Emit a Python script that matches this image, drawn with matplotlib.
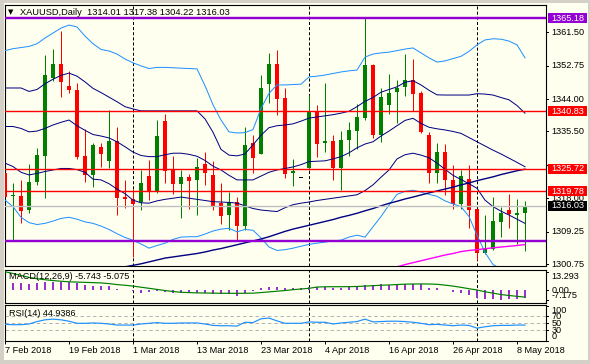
import matplotlib
matplotlib.use('Agg')
import matplotlib.pyplot as plt
from matplotlib.patches import Rectangle
import numpy as np

plt.rcParams['lines.scale_dashes'] = False
FONT = ['Liberation Sans', 'DejaVu Sans']
plt.rcParams['font.family'] = FONT

# ---------------- data ----------------
opens = [1324.5, 1318.5, 1318.5, 1314.9, 1322.3, 1329.1, 1349.4, 1353.3, 1347.4, 1346.3,
         1329.0, 1324.2, 1331.5, 1327.8, 1333.0, 1318.2, 1317.8, 1317.1, 1323.8, 1319.9,
         1338.2, 1325.4, 1321.6, 1323.6, 1322.7, 1326.9, 1324.0, 1316.8, 1313.6, 1316.9,
         1310.8, 1332.5, 1329.6, 1347.9, 1353.3, 1344.4, 1324.5, 1323.35, 1325.8, 1340.7,
         1332.5, 1333.0, 1326.0, 1333.2, 1335.7, 1339.1, 1352.9, 1334.7, 1342.4, 1345.9,
         1347.2, 1349.0, 1345.5, 1334.5, 1324.5, 1330.0, 1322.9, 1316.6, 1323.0, 1315.1,
         1303.7, 1304.6, 1311.8, 1315.0, 1313.7, 1314.01]
highs = [1332.4, 1322.1, 1322.7, 1326.9, 1331.2, 1355.5, 1357.1, 1361.8, 1351.3, 1348.3,
         1336.1, 1332.5, 1332.4, 1341.1, 1336.7, 1322.7, 1320.5, 1325.5, 1328.0, 1338.5,
         1340.2, 1329.1, 1325.4, 1324.3, 1328.6, 1330.0, 1327.8, 1321.9, 1319.7, 1318.4,
         1336.7, 1334.7, 1350.3, 1356.1, 1356.8, 1347.0, 1328.2, 1323.35, 1345.0, 1342.4,
         1348.3, 1334.7, 1335.6, 1338.0, 1342.6, 1365.2, 1353.3, 1347.0, 1350.5, 1349.1,
         1355.8, 1354.6, 1346.1, 1335.4, 1332.6, 1332.1, 1326.7, 1325.5, 1326.7, 1315.3,
         1313.6, 1318.2, 1315.8, 1319.1, 1317.9, 1317.38]
lows = [1311.4, 1307.0, 1311.4, 1314.2, 1321.4, 1318.1, 1348.7, 1344.6, 1345.6, 1328.4,
        1322.3, 1321.0, 1326.2, 1325.8, 1313.6, 1315.5, 1302.5, 1315.0, 1317.5, 1319.4,
        1322.0, 1319.2, 1312.9, 1315.1, 1313.7, 1321.4, 1314.9, 1311.2, 1309.6, 1307.0,
        1309.6, 1324.5, 1329.5, 1343.0, 1339.8, 1323.2, 1321.2, 1323.35, 1325.5, 1328.9,
        1330.2, 1322.7, 1320.1, 1329.1, 1331.0, 1338.5, 1333.7, 1332.8, 1340.0, 1337.6,
        1344.8, 1340.9, 1335.0, 1322.0, 1322.0, 1318.8, 1315.1, 1315.3, 1310.3, 1301.9,
        1303.5, 1304.4, 1307.9, 1310.1, 1306.1, 1304.22]
closes = [1318.4, 1318.9, 1314.7, 1322.3, 1329.3, 1350.3, 1353.3, 1348.5, 1346.3, 1328.9,
          1324.0, 1331.9, 1329.5, 1333.0, 1318.1, 1317.8, 1316.6, 1321.9, 1319.9, 1334.3,
          1325.2, 1321.6, 1323.6, 1322.6, 1326.2, 1324.5, 1315.7, 1313.4, 1317.1, 1310.8,
          1331.9, 1328.6, 1347.0, 1353.1, 1344.1, 1324.3, 1325.1, 1323.35, 1340.8, 1332.2,
          1333.0, 1325.8, 1333.2, 1335.9, 1339.3, 1352.9, 1334.7, 1344.6, 1345.5, 1347.0,
          1349.0, 1345.2, 1335.4, 1324.5, 1330.0, 1322.9, 1316.6, 1323.9, 1315.0, 1303.7,
          1305.0, 1312.1, 1314.0, 1313.8, 1314.2, 1316.03]

bb2_upper = [1356.7, 1357.2, 1357.5, 1357.8, 1358.5, 1360.0, 1361.3, 1362.6, 1363.4, 1362.9,
             1360.5, 1358.5, 1357.0, 1356.6, 1355.8, 1354.5, 1353.5, 1352.7, 1352.0, 1352.3,
             1352.3, 1352.2, 1352.1, 1352.0, 1351.9, 1347.5, 1342.5, 1338.5, 1335.4, 1335.1,
             1335.2, 1336.0, 1341.5, 1345.5, 1347.7, 1347.7, 1347.8, 1347.9, 1349.8, 1350.0,
             1350.3, 1350.7, 1351.1, 1351.4, 1351.6, 1355.0, 1355.8, 1356.1, 1356.3, 1356.7,
             1357.1, 1357.4, 1356.1, 1354.8, 1353.7, 1354.0, 1354.6, 1355.2, 1356.5, 1358.2,
             1359.5, 1359.8, 1359.7, 1359.2, 1358.2, 1354.8]
bb1_upper = [1346.9, 1346.9, 1346.9, 1346.0, 1346.5, 1348.0, 1349.2, 1350.2, 1350.8, 1350.0,
             1348.5, 1346.8, 1345.7, 1344.5, 1343.3, 1342.0, 1341.4, 1340.9, 1340.9, 1340.9,
             1340.9, 1340.9, 1340.9, 1340.9, 1340.9, 1338.8, 1335.3, 1330.8, 1329.3, 1329.1,
             1329.6, 1332.0, 1334.5, 1336.5, 1337.0, 1337.2, 1337.5, 1338.2, 1339.0, 1339.3,
             1339.6, 1339.9, 1340.3, 1340.8, 1342.0, 1343.4, 1344.4, 1345.8, 1346.5, 1347.2,
             1348.4, 1348.8, 1347.7, 1346.3, 1345.1, 1345.05, 1345.05, 1345.05, 1345.05, 1345.4,
             1345.3, 1345.05, 1344.4, 1343.8, 1342.3, 1340.3]
bb_middle = [1336.8, 1336.8, 1336.3, 1335.4, 1335.6, 1336.3, 1337.2, 1337.9, 1338.5, 1337.0,
             1335.8, 1334.7, 1334.3, 1333.8, 1332.8, 1331.5, 1330.1, 1329.2, 1328.9, 1328.9,
             1329.4, 1329.8, 1329.8, 1329.5, 1329.0, 1327.9, 1326.4, 1325.4, 1324.0, 1322.8,
             1322.8, 1322.8, 1323.8, 1324.8, 1325.4, 1325.8, 1326.2, 1326.8, 1327.6, 1327.7,
             1327.8, 1328.3, 1328.9, 1329.9, 1331.2, 1332.2, 1332.8, 1334.3, 1335.6, 1337.0,
             1338.4, 1338.95, 1337.6, 1336.6, 1336.2, 1335.9, 1335.5, 1335.0, 1333.9, 1332.8,
             1331.7, 1330.6, 1329.6, 1328.5, 1327.4, 1326.25]
bb1_lower = [1327.2, 1326.3, 1324.8, 1324.1, 1324.5, 1325.0, 1325.4, 1325.8, 1325.8, 1325.5,
             1324.8, 1323.0, 1322.8, 1321.8, 1320.4, 1319.2, 1317.5, 1316.8, 1316.7, 1317.3,
             1317.7, 1318.0, 1318.3, 1318.0, 1317.7, 1317.4, 1317.1, 1317.0, 1316.9, 1316.7,
             1316.0, 1315.3, 1314.9, 1314.7, 1314.5, 1315.5, 1316.3, 1316.7, 1317.0, 1317.4,
             1317.7, 1318.0, 1318.3, 1318.6, 1318.9, 1320.0, 1321.5, 1323.5, 1325.4, 1328.3,
             1329.4, 1329.8, 1329.3, 1328.6, 1327.2, 1325.6, 1324.0, 1322.9, 1321.8, 1320.6,
             1317.5, 1315.8, 1314.6, 1313.6, 1312.5, 1311.4]
bb2_lower = [1317.5, 1315.8, 1313.0, 1311.6, 1311.1, 1311.4, 1312.0, 1312.7, 1313.0, 1312.5,
             1311.8, 1311.4, 1310.7, 1309.8, 1308.7, 1307.7, 1307.0, 1306.0, 1304.9, 1305.6,
             1306.2, 1307.2, 1307.8, 1307.9, 1307.9, 1308.6, 1309.4, 1309.9, 1310.1, 1309.2,
             1309.8, 1309.6, 1307.6, 1305.2, 1304.3, 1304.5, 1304.9, 1305.4, 1305.9, 1306.2,
             1306.5, 1306.8, 1307.0, 1307.8, 1308.3, 1307.8, 1310.5, 1313.2, 1316.2, 1319.0,
             1319.8, 1320.1, 1319.6, 1319.0, 1318.5, 1317.3, 1316.5, 1315.8, 1313.2, 1308.3,
             1303.8, 1300.6, 1299.5, 1298.5, 1297.8, 1297.0]
# long moving average (navy), starting at bar 15
ma_long_start = 15
ma_long = [1300.0, 1300.4, 1300.8, 1301.3, 1301.8, 1302.3, 1302.6, 1302.9, 1303.2, 1303.5,
           1303.9, 1304.4, 1304.8, 1305.3, 1305.8, 1306.3, 1306.8, 1307.3, 1307.9, 1308.6,
           1309.3, 1309.9, 1310.4, 1310.9, 1311.4, 1311.9, 1312.4, 1313.0, 1313.5, 1314.05,
           1314.7, 1315.3, 1316.0, 1316.65, 1317.2, 1317.8, 1318.3, 1318.85, 1319.4, 1319.9,
           1320.4, 1320.9, 1321.5, 1322.0, 1322.6, 1323.1, 1323.6, 1324.2, 1324.7, 1325.2,
           1325.6]
# magenta moving average, starting at bar 49
ma_mag_start = 49
ma_mag = [1300.0, 1300.6, 1301.1, 1301.6, 1302.1, 1302.6, 1303.1, 1303.5, 1304.0, 1304.3,
          1304.5, 1304.75, 1305.0, 1305.2, 1305.4, 1305.6, 1305.85]

macd_main = [6.1, 5.4, 4.9, 4.4, 4.9, 5.9, 6.1, 6.1, 5.9, 4.9,
             3.9, 3.2, 3.0, 3.0, 0.6, 0.2, -0.3, -1.9, -1.4, -1.0,
             -1.4, -1.9, -1.9, -2.0, -2.1, -2.2, -2.5, -2.8, -3.0, -4.0,
             -1.8, -1.0, 1.5, 2.5, 2.6, 1.8, 1.3, 1.3, 2.0, 2.0,
             2.5, 1.3, 1.3, 2.5, 2.5, 3.4, 3.4, 4.4, 3.4, 4.4,
             4.4, 4.4, 4.4, 1.3, 1.3, 0.2, -1.6, -2.3, -3.5, -5.9,
             -6.4, -6.7, -7.175, -6.7, -6.2, -5.743]
macd_signal = [13.293, 12.0, 10.6, 9.2, 8.2, 7.5, 6.9, 6.4, 6.0, 5.8,
               5.6, 5.4, 5.2, 4.7, 4.0, 3.5, 2.9, 2.1, 1.3, 0.5,
               -0.3, -1.0, -1.6, -1.8, -2.0, -2.1, -2.2, -2.3, -2.3, -2.35,
               -2.3, -2.2, -1.8, -1.3, -0.8, -0.3, 0.3, 0.8, 1.3, 2.2,
               2.4, 2.45, 2.45, 2.5, 2.6, 2.9, 3.2, 3.5, 3.7, 4.0,
               4.3, 4.4, 4.45, 4.4, 4.2, 3.6, 2.9, 2.0, 1.0, 0.07,
               -1.2, -2.2, -3.2, -3.9, -4.5, -5.075]
rsi = [47, 46, 46, 48, 55, 60, 62, 60, 56, 50,
       50, 51, 50, 48, 45, 45, 45, 48, 50, 52,
       50, 50, 51, 51, 51, 48, 44, 43, 43, 42,
       53, 52, 63, 65, 57, 50, 50, 50, 54, 53,
       53, 48, 51, 53, 55, 62, 54, 55, 56, 56,
       55, 53, 50, 46, 47, 45, 43, 45, 44, 36,
       40, 43, 44, 44, 45, 44.9386]
rsi_levels = [70, 50, 30]

price_ticks = [1300.75, 1309.25, 1318.00, 1326.75, 1335.50, 1344.00, 1352.75, 1361.50]
hidden_tick_labels = [1326.75]
hlines_red = [1340.83, 1325.72, 1319.78]
hline_top = 1365.18
hline_bottom = 1306.9
bid = 1316.03
separators = [16, 38, 59]
date_idx = [0, 8, 16, 24, 32, 40, 48, 56, 64]
date_labels = ['7 Feb 2018', '19 Feb 2018', '1 Mar 2018', '13 Mar 2018', '23 Mar 2018',
               '4 Apr 2018', '16 Apr 2018', '26 Apr 2018', '8 May 2018']
title = 'XAUUSD,Daily  1314.01 1317.38 1304.22 1316.03'

# ---------------- layout ----------------
W, H = 590, 364
BG = '#FFFFF0'
fig = plt.figure(figsize=(W / 100, H / 100), dpi=100)
fig.patch.set_facecolor('#D4D0C8')
fig.patches.append(Rectangle((3.5 / W, 1 - 360 / H), 584 / W, 357 / H,
                             transform=fig.transFigure, facecolor=BG,
                             edgecolor='none', zorder=-10))

def rect(x0, y0, x1, y1):
    return [x0 / W, 1 - y1 / H, (x1 - x0) / W, (y1 - y0) / H]

XL, XR = 4.5, 545.7
x_lim = ((XL - 5) / 8, (XR - 5) / 8)
MT, MB = 4.5, 265.8
def price_at(y):
    return 1361.5 - (y - 32.3) / 3.814
main_ylim = (price_at(MB), price_at(MT))
CT, CB = 269.5, 302.5
macd_ylim = (-(CB - 290.1) / 1.383, (290.1 - CT) / 1.383)
RT, RB = 304.5, 341.0
rsi_ylim = ((340.7 - RB) / 0.348, (340.7 - RT) / 0.348)

ax = fig.add_axes(rect(XL, MT, XR, MB))
axm = fig.add_axes(rect(XL, CT, XR, CB))
axr = fig.add_axes(rect(XL, RT, XR, RB))
for a, yl in ((ax, main_ylim), (axm, macd_ylim), (axr, rsi_ylim)):
    a.set_facecolor(BG)
    a.set_xlim(*x_lim)
    a.set_ylim(*yl)
    a.set_yticks([])
    for s in a.spines.values():
        s.set_linewidth(0.8)
        s.set_color('black')
ax.set_xticks([])
axm.set_xticks([])

PX = 0.72  # 1 pixel in points
idx = np.arange(len(closes))

# separators
for a in (ax, axm, axr):
    for s in separators:
        a.axvline(s, color='black', lw=PX, dashes=(2.2, 1.5), zorder=1, snap=True)

# candles
o = np.array(opens); c = np.array(closes); hi = np.array(highs); lo = np.array(lows)
cols = np.where(c > o, '#008000', np.where(c < o, '#FF0000', '#000000'))
ax.vlines(idx, lo, hi, colors=cols, lw=PX, zorder=2, snap=True)
body_min = 1 / 3.814
heights = np.where(np.abs(c - o) < body_min, body_min, np.abs(c - o))
bottoms = np.minimum(o, c)
bottoms = np.where(np.abs(c - o) < body_min, (o + c) / 2 - body_min / 2, bottoms)
ax.bar(idx, heights, bottom=bottoms, width=0.62, color=cols, lw=0, zorder=3)

# bands and averages
ax.plot(idx, bb2_upper, color='#1E90FF', lw=PX, zorder=4)
ax.plot(idx, bb2_lower, color='#1E90FF', lw=PX, zorder=4)
ax.plot(idx, bb1_upper, color='#000080', lw=PX, zorder=4)
ax.plot(idx, bb_middle, color='#000080', lw=PX, zorder=4)
ax.plot(idx, bb1_lower, color='#000080', lw=PX, zorder=4)
ax.plot(np.arange(ma_long_start, ma_long_start + len(ma_long)), ma_long,
        color='#000080', lw=PX * 1.4, zorder=4)
ax.plot(np.arange(ma_mag_start, ma_mag_start + len(ma_mag)), ma_mag,
        color='#FF00FF', lw=PX * 1.4, zorder=4)

# horizontal lines
ax.axhline(bid, color='#C0C0C0', lw=1.0, zorder=5)
for v in hlines_red:
    ax.axhline(v, color='#FF0000', lw=1.0, zorder=5)
ax.axhline(hline_top, color='#9400D3', lw=PX * 2.4, zorder=5)
ax.axhline(hline_bottom, color='#9400D3', lw=PX * 2.4, zorder=5)

# title
fig.text(8 / W, 1 - 12.3 / H, '\u25BC', fontsize=5, family='DejaVu Sans',
         ha='left', va='center')
fig.text(20 / W, 1 - 12.3 / H, title, fontsize=6.7, ha='left', va='center')

# MACD
axm.bar(idx, macd_main, width=0.26, color='#9932CC', lw=0, zorder=2)
axm.plot(idx, macd_signal, color='#008000', lw=PX * 1.2, zorder=3)
axm.text(0.008, 1 - 7.2 / (CB - CT),
         'MACD(12,26,9) %.3f %.3f' % (macd_main[-1], macd_signal[-1]),
         transform=axm.transAxes, fontsize=6.6, ha='left', va='center', zorder=6)

# RSI
for lv in rsi_levels:
    axr.axhline(lv, color='#B4B4B4', lw=PX, dashes=(2.5, 2), zorder=1, snap=True)
axr.plot(idx, rsi, color='#1E90FF', lw=PX * 1.2, zorder=3)
axr.text(0.008, 1 - 9.0 / (RB - RT), 'RSI(14) %.4f' % rsi[-1],
         transform=axr.transAxes, fontsize=6.6, ha='left', va='center', zorder=6)

# date axis
axr.set_xticks(date_idx)
axr.set_xticklabels(date_labels, fontsize=6.6, ha='left')
axr.tick_params(axis='x', length=2.0, width=0.7, pad=1.6, direction='out')

# right-hand scales
def label_axis(y0, y1, ylim):
    la = fig.add_axes(rect(XR, y0, 590, y1))
    la.set_xlim(0, 590 - XR)
    la.set_ylim(*ylim)
    la.axis('off')
    return la

lm = label_axis(MT, MB, main_ylim)
for v in price_ticks:
    lm.plot([0, 2.6], [v, v], color='black', lw=PX, clip_on=False)
    if v not in hidden_tick_labels:
        lm.text(6.0, v, '%.2f' % v, fontsize=6.6, ha='left', va='center', clip_on=False)
hh = 5.0 / 3.814
for v, colr in ((hline_top, '#9400D3'), (hlines_red[0], '#FF0000'),
                (hlines_red[1], '#FF0000'), (hlines_red[2], '#FF0000'),
                (bid, '#000000')):
    lm.add_patch(Rectangle((1.8, v - hh), 39.2, 2 * hh, facecolor=colr,
                           edgecolor='none', zorder=8, clip_on=False))
    lm.text(6.0, v, '%.2f' % v, fontsize=6.6, ha='left', va='center',
            color='white', zorder=9, clip_on=False)

lmc = label_axis(CT, CB, macd_ylim)
mx, mn = max(max(macd_main), max(macd_signal)), min(min(macd_main), min(macd_signal))
for v, txt, va in ((mx, '%.3f' % mx, 'top'), (0.0, '0.00', 'center'), (mn, '%.3f' % mn, 'bottom')):
    lmc.plot([0, 2.6], [v, v], color='black', lw=PX, clip_on=False)
    lmc.text(6.0, v, txt, fontsize=6.6, ha='left', va=va, clip_on=False)

lr = label_axis(RT, RB, rsi_ylim)
for v, va in ((100, 'top'), (70, 'center'), (50, 'center'), (30, 'center'), (0, 'bottom')):
    lr.plot([0, 2.6], [v, v], color='black', lw=PX, clip_on=False)
    lr.text(6.0, v, '%d' % v, fontsize=6.6, ha='left', va=va, clip_on=False)

fig.savefig('out.png', dpi=100, facecolor=fig.get_facecolor())
